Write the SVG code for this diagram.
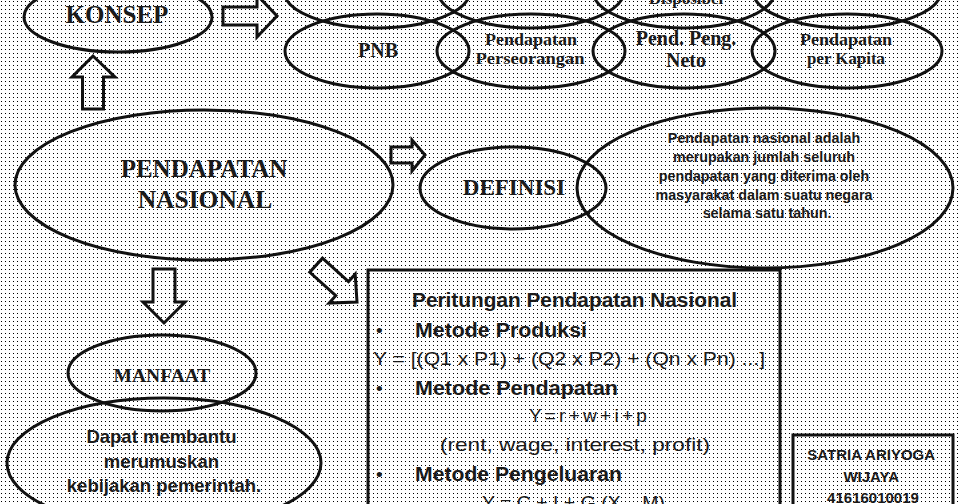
<svg xmlns="http://www.w3.org/2000/svg" width="960" height="504" viewBox="0 0 960 504">
<defs>
<pattern id="dots" width="4" height="4" patternUnits="userSpaceOnUse">
<rect width="4" height="4" fill="#ffffff"/>
<rect x="1" y="1" width="1" height="1" fill="#000000"/>
</pattern>
<style>
.el{fill:none;stroke:#111;stroke-width:3}
.ar{fill:none;stroke:#111;stroke-width:3;stroke-linejoin:miter}
.bx{fill:none;stroke:#111;stroke-width:3}
.sf{font-family:"Liberation Serif","Times New Roman",serif;font-weight:bold;fill:#1a1a1a;text-anchor:middle}
.sb{font-family:"Liberation Sans",Arial,sans-serif;font-weight:bold;fill:#1a1a1a;text-anchor:middle}
.sr{font-family:"Liberation Sans",Arial,sans-serif;fill:#1a1a1a}
.sl{font-family:"Liberation Sans",Arial,sans-serif;font-weight:bold;fill:#1a1a1a}
</style>
</defs>
<rect width="960" height="504" fill="url(#dots)"/>

<g id="top-row">
<ellipse class="el" cx="377" cy="-9" rx="93" ry="37"/>
<ellipse class="el" cx="531" cy="-9" rx="93" ry="37"/>
<ellipse class="el" cx="684" cy="-9" rx="91" ry="37"/>
<text class="sf" x="686" y="4" font-size="17">Disposibel</text>
<ellipse class="el" cx="847" cy="-9" rx="94" ry="37"/>
</g>

<g id="pnb">
<ellipse class="el" cx="377" cy="51" rx="92" ry="37"/>
<text class="sf" x="378" y="57" font-size="20">PNB</text>
</g>
<g id="perseorangan">
<ellipse class="el" cx="531" cy="51" rx="94" ry="37"/>
<text class="sf" x="531" y="45" font-size="17" textLength="92" lengthAdjust="spacingAndGlyphs">Pendapatan</text>
<text class="sf" x="530" y="64" font-size="17" textLength="109" lengthAdjust="spacingAndGlyphs">Perseorangan</text>
</g>
<g id="neto">
<ellipse class="el" cx="684" cy="51" rx="91" ry="37"/>
<text class="sf" x="686" y="45" font-size="20">Pend. Peng.</text>
<text class="sf" x="686" y="67" font-size="20">Neto</text>
</g>
<g id="kapita">
<ellipse class="el" cx="847" cy="51" rx="95" ry="37"/>
<text class="sf" x="846" y="45" font-size="17" textLength="92" lengthAdjust="spacingAndGlyphs">Pendapatan</text>
<text class="sf" x="846" y="64" font-size="17" textLength="78" lengthAdjust="spacingAndGlyphs">per Kapita</text>
</g>

<g id="konsep">
<ellipse class="el" cx="118" cy="17" rx="94" ry="35"/>
<text class="sf" x="117" y="23" font-size="25">KONSEP</text>
</g>

<g id="pendapatan-nasional">
<ellipse class="el" cx="204" cy="185" rx="189" ry="75"/>
<text class="sf" x="204" y="177" font-size="25">PENDAPATAN</text>
<text class="sf" x="205" y="208" font-size="25.5">NASIONAL</text>
</g>

<g id="definisi">
<ellipse class="el" cx="513" cy="188" rx="93" ry="41"/>
<text class="sf" x="514" y="195" font-size="23">DEFINISI</text>
</g>

<g id="definisi-text">
<ellipse class="el" cx="765" cy="188" rx="188" ry="80"/>
<text class="sb" font-size="14.3">
<tspan x="766" y="143">Pendapatan nasional adalah</tspan>
<tspan x="766" y="162">merupakan jumlah seluruh</tspan>
<tspan x="766" y="181">pendapatan yang diterima oleh</tspan>
<tspan x="766" y="200">masyarakat dalam suatu negara</tspan>
<tspan x="767" y="218">selama satu tahun.</tspan>
</text>
</g>

<g id="manfaat">
<ellipse class="el" cx="162" cy="373" rx="94" ry="38"/>
<text class="sf" x="162" y="382" font-size="19.5">MANFAAT</text>
</g>

<g id="manfaat-text">
<ellipse class="el" cx="164" cy="463" rx="157" ry="65"/>
<text class="sb" font-size="18.5">
<tspan x="164" y="443">Dapat membantu</tspan>
<tspan x="164" y="468">merumuskan</tspan>
<tspan x="164" y="492">kebijakan pemerintah.</tspan>
</text>
</g>

<g id="perhitungan">
<rect class="bx" x="368" y="270" width="412" height="260"/>
<text class="sl" x="412" y="307" font-size="19.5" textLength="325" lengthAdjust="spacingAndGlyphs">Peritungan Pendapatan Nasional</text>
<text class="sr" x="376" y="337" font-size="19">•</text>
<text class="sl" x="415" y="337" font-size="19.5" textLength="172" lengthAdjust="spacingAndGlyphs">Metode Produksi</text>
<text class="sr" x="373" y="365" font-size="19" textLength="392" lengthAdjust="spacingAndGlyphs">Y = [(Q1 x P1) + (Q2 x P2) + (Qn x Pn) ...]</text>
<text class="sr" x="376" y="395" font-size="19">•</text>
<text class="sl" x="415" y="395" font-size="19.5" textLength="203" lengthAdjust="spacingAndGlyphs">Metode Pendapatan</text>
<text class="sr" x="588" y="422" font-size="19" word-spacing="-2" text-anchor="middle">Y = r + w + i + p</text>
<text class="sr" x="440" y="451" font-size="19" textLength="270" lengthAdjust="spacingAndGlyphs">(rent, wage, interest, profit)</text>
<text class="sr" x="376" y="481" font-size="19">•</text>
<text class="sl" x="415" y="481" font-size="19.5" textLength="207" lengthAdjust="spacingAndGlyphs">Metode Pengeluaran</text>
<text class="sr" x="482" y="509" font-size="19" textLength="183" lengthAdjust="spacingAndGlyphs">Y = C + I + G (X – M)</text>
</g>

<g id="nama">
<rect class="bx" x="793" y="435" width="160" height="90"/>
<text class="sb" font-size="15">
<tspan x="873" y="460">SATRIA ARIYOGA</tspan>
<tspan x="873" y="482">WIJAYA</tspan>
<tspan x="873" y="503">41616010019</tspan>
</text>
</g>

<g id="connectors">
<polygon class="ar" points="223,7 257,7 257,-5 277,16 257,37 257,25 223,25"/>
<polygon class="ar" points="82.5,109 82.5,77 72,77 93,56 115,77 103.5,77 103.5,109"/>
<polygon class="ar" points="153,269 175,269 175,302 185,302 164,323 143,302 153,302"/>
<polygon class="ar" points="391,147 412,147 412,140 425,155 412,171 412,163 391,163"/>
<polygon class="ar" transform="translate(357,302) rotate(42)" points="-55,-9.5 -20,-9.5 -20,-19.5 0,0 -20,19.5 -20,9.5 -55,9.5"/>
</g>
</svg>
